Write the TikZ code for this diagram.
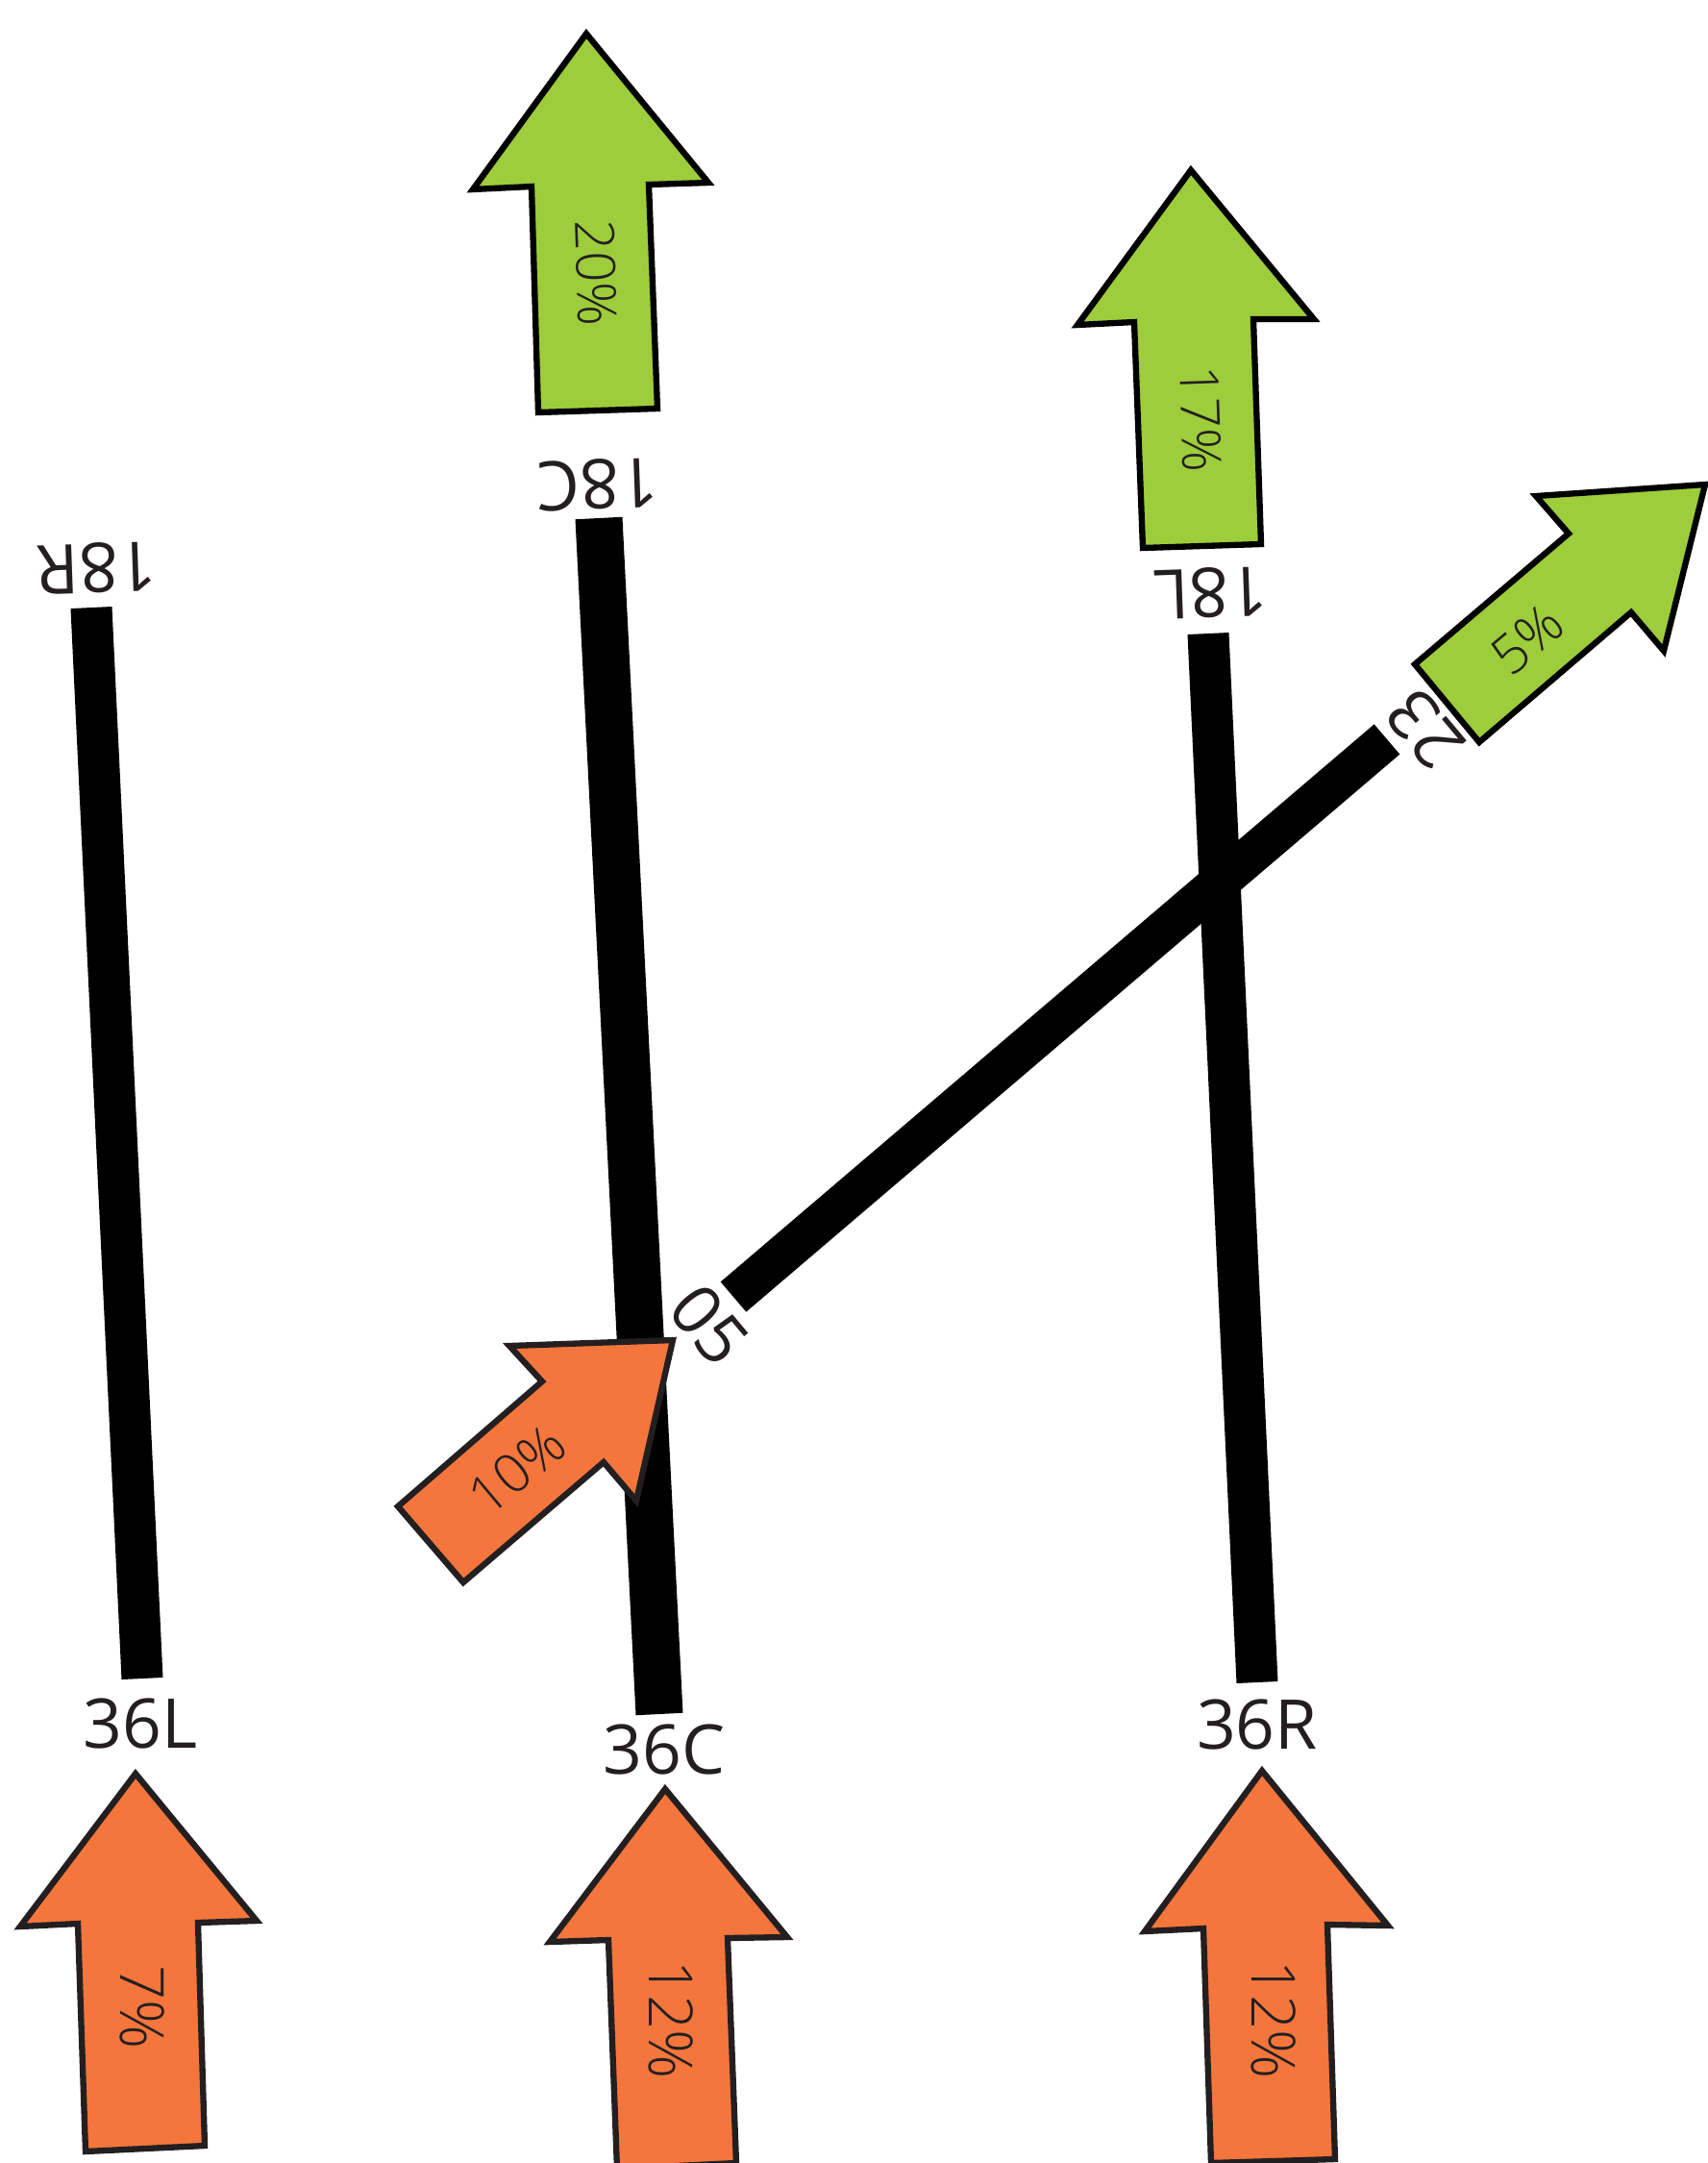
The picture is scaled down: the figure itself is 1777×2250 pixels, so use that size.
\documentclass[tikz,border=0pt]{standalone}
\usepackage{fontspec}
\setmainfont{Open Sans}
\newfontfamily\pctfont{Open Sans Light}
\definecolor{inbound}{HTML}{F5763C}
\definecolor{outbound}{HTML}{9DCD3B}
\definecolor{ink}{HTML}{231F20}
\tikzset{
	runway/.style={draw=black, line cap=butt},
	arrivalarrow/.style={fill=inbound, draw=ink, line width=1.8pt, miter limit=10},
	departarrow/.style={fill=outbound, draw=black, line width=1.8pt, miter limit=10},
	rwylabel/.style={text=ink, font=\fontsize{20.3}{24}\selectfont, inner sep=0pt},
	pctlabel/.style={text=ink, font=\pctfont\fontsize{16}{18}\selectfont, inner sep=0pt},
	pctbig/.style={pctlabel, font=\pctfont\fontsize{18}{22}\selectfont}
}
\begin{document}
\begin{tikzpicture}[x=0.01cm, y=-0.01cm]
	\useasboundingbox (0, 0) rectangle (1777, 2250);
	\coordinate (end18R) at (95, 632);
	\coordinate (end36L) at (148, 1746);
	\coordinate (end18C) at (623, 539);
	\coordinate (end36C) at (686, 1783);
	\coordinate (end18L) at (1257, 659);
	\coordinate (end36R) at (1308, 1750);
	\coordinate (end05) at (763, 1349);
	\coordinate (end23) at (1443, 769);
	\foreach \a/\b/\w in {end18R/end36L/0.43, end18C/end36C/0.49, end18L/end36R/0.43, end05/end23/0.41}
		\draw[runway, line width=\w cm] (\a) -- (\b);
	\filldraw[arrivalarrow] (141, 1845) -- (21, 2004) -- (81, 2001) -- (89, 2238) -- (213, 2232) -- (206, 2000) -- (267, 1998) -- cycle;
	\filldraw[arrivalarrow] (692, 1861) -- (572, 2020) -- (633, 2018) -- (642, 2256) -- (766, 2250) -- (757, 2016) -- (819, 2015) -- cycle;
	\filldraw[arrivalarrow] (1313, 1842) -- (1191, 2009) -- (1252, 2006) -- (1260, 2250) -- (1389, 2246) -- (1381, 2002) -- (1444, 2003) -- cycle;
	\filldraw[arrivalarrow] (700, 1394) -- (530, 1400) -- (564, 1437) -- (414, 1567) -- (482, 1646) -- (628, 1521) -- (662, 1561) -- cycle;
	\filldraw[departarrow] (610, 35) -- (492, 197) -- (553, 194) -- (560, 429) -- (684, 425) -- (675, 192) -- (737, 190) -- cycle;
	\filldraw[departarrow] (1239, 177) -- (1121, 338) -- (1180, 335) -- (1189, 570) -- (1312, 566) -- (1304, 332) -- (1367, 332) -- cycle;
	\filldraw[departarrow] (1774, 504) -- (1598, 516) -- (1632, 555) -- (1472, 691) -- (1539, 772) -- (1697, 637) -- (1731, 677) -- cycle;
	\node[rwylabel] (lab36L) at (146, 1793) {36L};
	\node[rwylabel] (lab36C) at (691, 1820) {36C};
	\node[rwylabel] (lab36R) at (1308, 1794) {36R};
	\node[rwylabel, rotate=182] (lab18R) at (101, 591) {18R};
	\node[rwylabel, rotate=182] (lab18C) at (622, 504) {18C};
	\node[rwylabel, rotate=182] (lab18L) at (1260, 617) {18L};
	\node[rwylabel, rotate=-50] (lab05) at (738, 1378) {05};
	\node[rwylabel, rotate=130] (lab23) at (1483, 759) {23};
	\node[pctbig, rotate=-90] (pct36L) at (148, 2088) {7\%};
	\node[pctbig, rotate=-90] (pct36C) at (698, 2101) {12\%};
	\node[pctbig, rotate=-90] (pct36R) at (1325, 2101) {12\%};
	\node[pctlabel, rotate=-88] (pct18C) at (620, 284) {20\%};
	\node[pctlabel, rotate=-88] (pct18L) at (1249, 436) {17\%};
	\node[pctlabel, rotate=40] (pct23) at (1589, 665) {5\%};
	\node[pctlabel, rotate=40] (pct05) at (538, 1529) {10\%};
\end{tikzpicture}
\end{document}
